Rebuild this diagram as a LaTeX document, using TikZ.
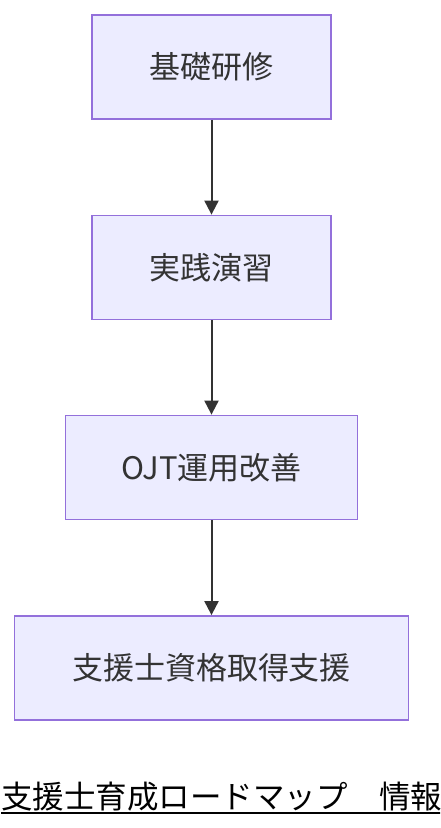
\documentclass[tikz,border=0pt]{standalone}
\usepackage{fontspec}
\setmainfont{Noto Sans CJK JP}
\usepackage{xcolor}
\usetikzlibrary{arrows.meta}
\definecolor{boxfill}{HTML}{ECECFF}
\definecolor{boxline}{HTML}{9370DB}
\definecolor{edge}{HTML}{333333}

\begin{document}
\begin{tikzpicture}[x=1pt, y=-1pt,
      stage/.style={shape=rectangle, draw=boxline, fill=boxfill, line width=1.8pt, text=edge, inner sep=0pt,
        minimum height=104pt, font=\fontsize{31}{36}\selectfont},
      flow/.style={-{Triangle[length=14pt, width=14pt]}, draw=edge, line width=2pt}
    ]
      \def\cx{211.5}

      % Frame
      \useasboundingbox (0,0) rectangle (440,828);
      \clip (0,0) rectangle (440,828);

      % Stages
      \node[stage, minimum width=239pt] (kiso) at (\cx, 67) {基礎研修};
      \node[stage, minimum width=239pt] (jissen) at (\cx, 267.5) {実践演習};
      \node[stage, minimum width=292pt] (ojt) at (\cx, 467.5) {OJT運用改善};
      \node[stage, minimum width=394pt] (shikaku) at (\cx, 668) {支援士資格取得支援};

      % Arrows
      \draw[flow] (kiso) -- (jissen);
      \draw[flow] (jissen) -- (ojt);
      \draw[flow] (ojt) -- (shikaku);

      % Caption
      \node[anchor=base west, inner sep=0pt, font=\fontsize{31.5}{37}\selectfont] (title) at (1, 808) {支援士育成ロードマップ　情報};
      \draw[line width=2pt] ([yshift=-5pt]title.base west) -- ([yshift=-5pt]title.base east);
    \end{tikzpicture}
\end{document}
